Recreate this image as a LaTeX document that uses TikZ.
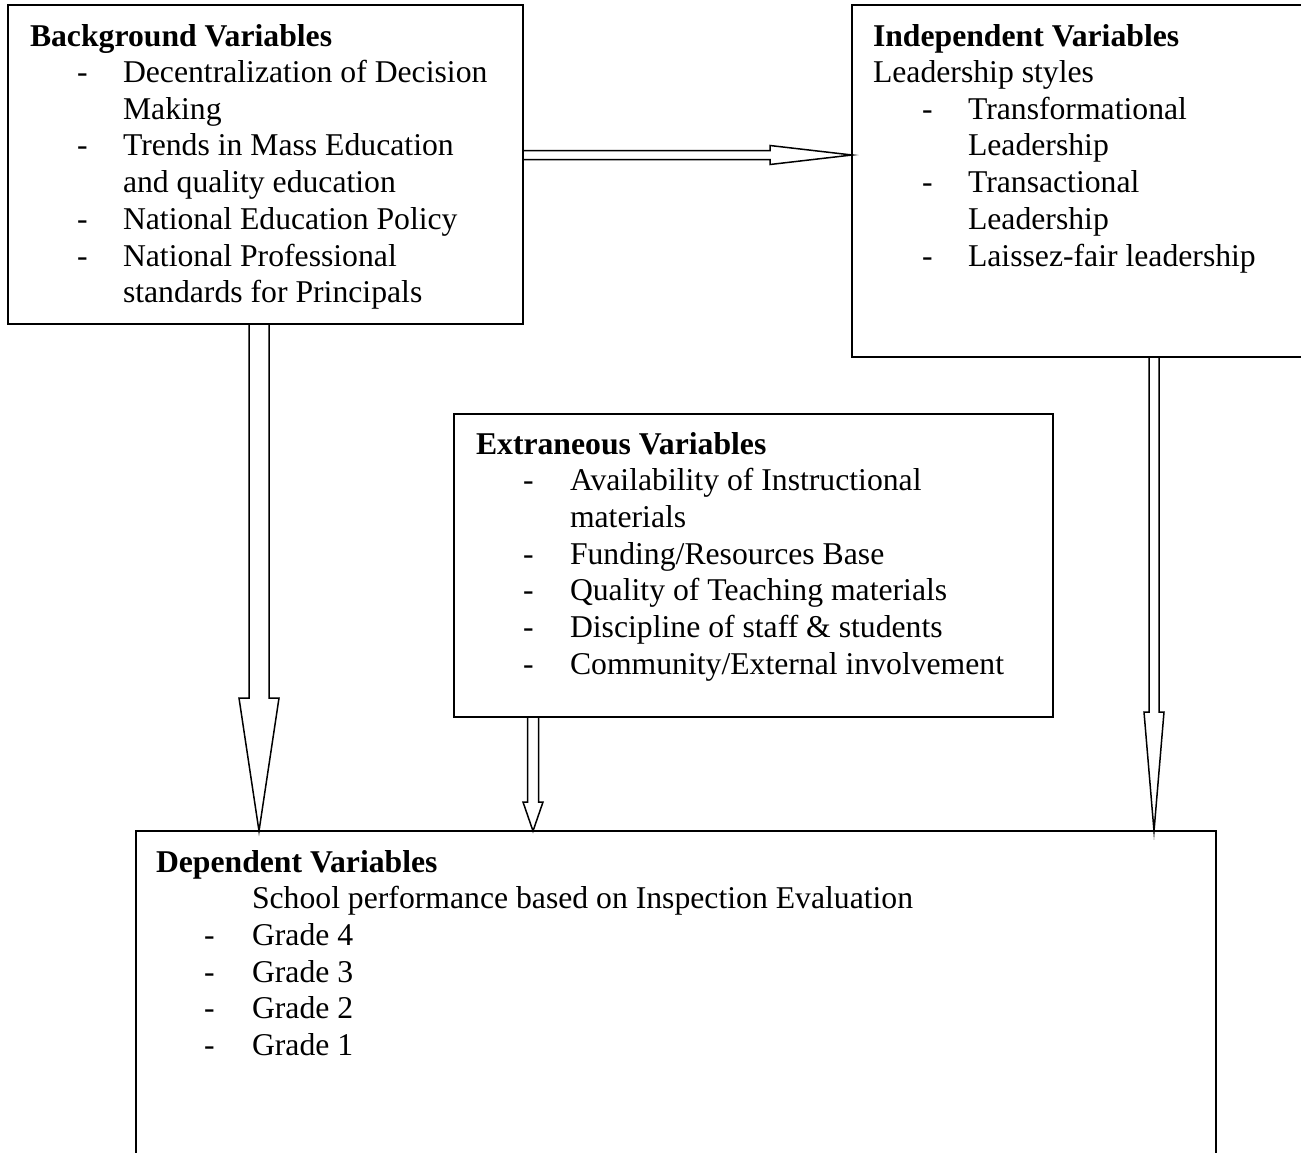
\documentclass[tikz,border=0pt]{standalone}
\usepackage{fontspec}
\setmainfont{Liberation Serif}
\usetikzlibrary{calc}
\tikzset{
  box/.style={draw, line width=1.6pt, inner sep=0pt, outer sep=0pt, anchor=north west},
  txt/.style={anchor=base west, inner sep=0pt, outer sep=0pt},
  ttl/.style={txt, font=\fontsize{31.7pt}{36.7pt}\selectfont\bfseries},
  blockarrow/.style={draw, line width=1.5pt, line join=miter, miter limit=20},
}
\newcommand{\vblockarrow}[5]{%
  \draw[blockarrow] let \p1=(#1), \p2=(#2) in
   (\x1-#3/2,\y1) -- (\x1-#3/2,\y2+#5) -- (\x1-#4/2,\y2+#5) -- (\x1,\y2)
   -- (\x1+#4/2,\y2+#5) -- (\x1+#3/2,\y2+#5) -- (\x1+#3/2,\y1);}
\newcommand{\hblockarrow}[5]{%
  \draw[blockarrow] let \p1=(#1), \p2=(#2) in
   (\x1,\y1+#3/2) -- (\x2-#5,\y1+#3/2) -- (\x2-#5,\y1+#4/2) -- (\x2,\y1)
   -- (\x2-#5,\y1-#4/2) -- (\x2-#5,\y1-#3/2) -- (\x1,\y1-#3/2);}
\begin{document}
\begin{tikzpicture}[x=1pt, y=-1pt, font=\fontsize{31.7pt}{36.7pt}\selectfont]
\clip (0,0) rectangle (1301,1152);
% boxes
\node[box, minimum width=515pt, minimum height=319pt] (bg) at (8,5) {};
\node[box, minimum width=460pt, minimum height=352pt] (ind) at (852,5) {};
\node[box, minimum width=599pt, minimum height=303pt] (ext) at (454,414) {};
\node[box, minimum width=1080pt, minimum height=340pt] (dep) at (136,831) {};
% Background
\node[ttl] (bgt) at (30,46) {Background Variables};
\node[txt] (bgd1) at (77,82.5) {-};
\node[txt] (bg1) at (123,82.5) {Decentralization of Decision};
\node[txt] (bg1b) at (123,119.2) {Making};
\node[txt] (bgd2) at (77,155.9) {-};
\node[txt] (bg2) at (123,155.9) {Trends in Mass Education};
\node[txt] (bg2b) at (123,192.6) {and quality education};
\node[txt] (bgd3) at (77,229.3) {-};
\node[txt] (bg3) at (123,229.3) {National Education Policy};
\node[txt] (bgd4) at (77,266) {-};
\node[txt] (bg4) at (123,266) {National Professional};
\node[txt] (bg4b) at (123,302.7) {standards for Principals};
% Independent
\node[ttl] (indt) at (873,46) {Independent Variables};
\node[txt] (ind0) at (873,82.5) {Leadership styles};
\node[txt] (indd1) at (922,119.2) {-};
\node[txt] (ind1) at (968,119.2) {Transformational};
\node[txt] (ind1b) at (968,155.9) {Leadership};
\node[txt] (indd2) at (922,192.6) {-};
\node[txt] (ind2) at (968,192.6) {Transactional};
\node[txt] (ind2b) at (968,229.3) {Leadership};
\node[txt] (indd3) at (922,266) {-};
\node[txt] (ind3) at (968,266) {Laissez-fair leadership};
% Extraneous
\node[ttl] (extt) at (476,454) {Extraneous Variables};
\node[txt] (extd1) at (523,490.7) {-};
\node[txt] (ext1) at (570,490.7) {Availability of Instructional};
\node[txt] (ext1b) at (570,527.4) {materials};
\node[txt] (extd2) at (523,564.1) {-};
\node[txt] (ext2) at (570,564.1) {Funding/Resources Base};
\node[txt] (extd3) at (523,600.8) {-};
\node[txt] (ext3) at (570,600.8) {Quality of Teaching materials};
\node[txt] (extd4) at (523,637.5) {-};
\node[txt] (ext4) at (570,637.5) {Discipline of staff \& students};
\node[txt] (extd5) at (523,674.2) {-};
\node[txt] (ext5) at (570,674.2) {Community/External involvement};
% Dependent
\node[ttl] (dept) at (156,872) {Dependent Variables};
\node[txt] (dep0) at (252,908.7) {School performance based on Inspection Evaluation};
\node[txt] (depd1) at (204,945.4) {-};
\node[txt] (dep1) at (252,945.4) {Grade 4};
\node[txt] (depd2) at (204,982.1) {-};
\node[txt] (dep2) at (252,982.1) {Grade 3};
\node[txt] (depd3) at (204,1018.8) {-};
\node[txt] (dep3) at (252,1018.8) {Grade 2};
\node[txt] (depd4) at (204,1055.5) {-};
\node[txt] (dep4) at (252,1055.5) {Grade 1};
% arrow anchors
\coordinate (a1s) at ([yshift=-150pt]bg.north east);
\coordinate (a1e) at (ind.west |- a1s);
\coordinate (a2s) at ([xshift=251pt]bg.south west);
\coordinate (a2e) at (dep.north -| a2s);
\coordinate (a3s) at ([xshift=79pt]ext.south west);
\coordinate (a3e) at (dep.north -| a3s);
\coordinate (a4s) at ([xshift=302pt]ind.south west);
\coordinate (a4e) at (dep.north -| a4s);
% block arrows
\hblockarrow{a1s}{a1e}{9pt}{19pt}{82pt}
\vblockarrow{a2s}{a2e}{20pt}{40pt}{133pt}
\vblockarrow{a3s}{a3e}{11pt}{20pt}{29pt}
\vblockarrow{a4s}{a4e}{10pt}{20pt}{119pt}
\end{tikzpicture}
\end{document}
